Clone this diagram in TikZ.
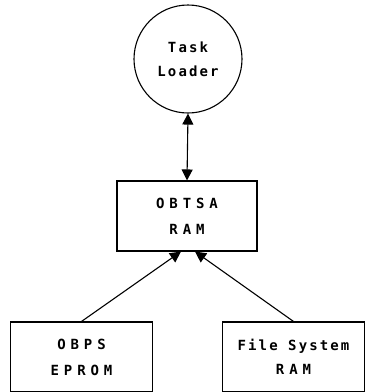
\documentclass[tikz,border=0pt]{standalone}
\usepackage{fontspec}
\newfontfamily\plotfont[LetterSpace=35]{DejaVu Sans Mono}
\newfontfamily\plotfontn[LetterSpace=15]{DejaVu Sans Mono}
\usepackage{tikz}
\usetikzlibrary{arrows.meta}

\begin{document}
\begin{tikzpicture}[x=1pt, y=-1pt,
  box/.style={draw, line width=1.1pt, minimum width=140pt, minimum height=70pt, align=center, inner sep=0pt},
  wide/.style={font=\plotfont\bfseries\fontsize{14}{26}\selectfont},
  narrow/.style={font=\plotfontn\bfseries\fontsize{14}{24}\selectfont},
  arr/.style={line width=1.1pt, -{Triangle[length=11pt, width=11pt]}}]
\useasboundingbox (0,0) rectangle (365,392);
\node[draw, circle, line width=1.1pt, minimum size=108pt, align=center, inner sep=0pt, narrow] (loader) at (188,59) {Task\\Loader};
\node[box, wide] (obtsa) at (187,216) {OBTSA\\RAM};
\node[box, wide, minimum width=142pt] (obps) at (81.5,357) {OBPS\\EPROM};
\node[box, narrow, minimum width=142pt] (fsram) at (293.5,357) {File System\\{\plotfont\bfseries RAM}};
\coordinate (inL) at ([xshift=-6pt]obtsa.south);
\coordinate (inR) at ([xshift=8pt]obtsa.south);
\draw[arr, {Triangle[length=11pt, width=11pt]}-{Triangle[length=11pt, width=11pt]}] (loader.south) -- (obtsa.north);
\draw[arr] (obps.north) -- (inL);
\draw[arr] (fsram.north) -- (inR);
\end{tikzpicture}
\end{document}
